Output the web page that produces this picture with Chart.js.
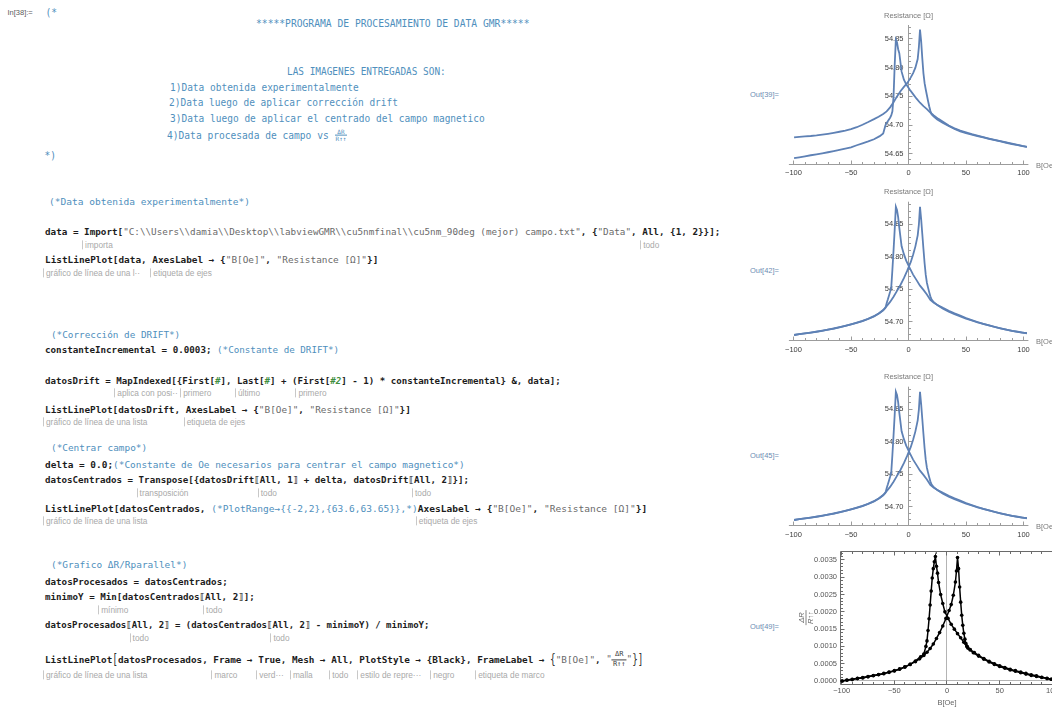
<!DOCTYPE html>
<html lang="es">
<head>
<meta charset="utf-8">
<title>Procesamiento de data GMR</title>
<script src="https://cdn.jsdelivr.net/npm/chart.js@4.4.1/dist/chart.umd.min.js"></script>
<script>
// Campo magnético aplicado (Oe): barrido de subida y barrido de bajada
const campoSubida = [-99.5,-95,-90,-85,-80,-75,-70,-65,-60,-55,-50,-45,-40,-35,-30,-26,-22,-19,-16,-13,-10,-7,-4,-1,2,4,6,8,9,10,11,12,13,14,15,16,17,18,19,20,22,25,30,35,40,45,50,55,60,65,70,75,80,85,90,95,99,103];
const campoBajada = [103,99,95,90,85,80,75,70,65,60,55,50,45,40,35,30,26,22,19,16,13,10,7,4,1,-2,-4,-6,-8,-9,-10,-11,-12,-13,-14,-15,-16,-17,-18,-19,-20,-22,-25,-30,-35,-40,-45,-50,-55,-60,-65,-70,-75,-80,-85,-90,-95,-99.5];

// Resistencia medida (Ω), sin corregir
const resistenciaSubida = [54.6790,54.6797,54.6805,54.6812,54.6822,54.6835,54.6850,54.6867,54.6886,54.6907,54.6932,54.6965,54.7008,54.7055,54.7105,54.7148,54.7195,54.7240,54.7310,54.7400,54.7500,54.7590,54.7665,54.7735,54.7830,54.7905,54.8000,54.8150,54.8350,54.8660,54.8460,54.8160,54.7900,54.7730,54.7620,54.7520,54.7420,54.7330,54.7250,54.7190,54.7150,54.7100,54.7040,54.6985,54.6935,54.6893,54.6860,54.6835,54.6810,54.6787,54.6763,54.6740,54.6717,54.6695,54.6673,54.6653,54.6638,54.6625];
const resistenciaBajada = [54.6625,54.6640,54.6657,54.6678,54.6700,54.6722,54.6745,54.6768,54.6792,54.6818,54.6845,54.6875,54.6905,54.6945,54.6993,54.7060,54.7110,54.7170,54.7220,54.7280,54.7330,54.7390,54.7460,54.7540,54.7620,54.7710,54.7790,54.7930,54.8250,54.8320,54.8440,54.8485,54.8050,54.7500,54.7240,54.7170,54.7130,54.7100,54.7070,54.7040,54.7000,54.6855,54.6810,54.6755,54.6718,54.6686,54.6652,54.6615,54.6592,54.6570,54.6550,54.6530,54.6512,54.6495,54.6478,54.6460,54.6443,54.6428];

// Resistencia tras la corrección de drift (Ω); el centrado usa delta = 0.0
const resistenciaCorregidaSubida = [54.6795,54.6807,54.6819,54.6832,54.6846,54.6861,54.6877,54.6895,54.6915,54.6937,54.6960,54.6985,54.7012,54.7045,54.7085,54.7125,54.7180,54.7240,54.7305,54.7385,54.7475,54.7565,54.7670,54.7790,54.7920,54.8030,54.8160,54.8330,54.8490,54.8770,54.8580,54.8350,54.8120,54.7900,54.7720,54.7600,54.7525,54.7455,54.7390,54.7345,54.7300,54.7255,54.7200,54.7155,54.7115,54.7080,54.7048,54.7018,54.6990,54.6965,54.6942,54.6920,54.6898,54.6878,54.6860,54.6845,54.6833,54.6822];
const resistenciaCorregidaBajada = [54.6822,54.6832,54.6843,54.6858,54.6876,54.6896,54.6918,54.6942,54.6967,54.6995,54.7025,54.7057,54.7092,54.7128,54.7168,54.7212,54.7250,54.7290,54.7335,54.7420,54.7490,54.7555,54.7640,54.7725,54.7830,54.7940,54.8040,54.8160,54.8450,54.8610,54.8720,54.8770,54.8420,54.8100,54.7800,54.7530,54.7460,54.7400,54.7340,54.7285,54.7215,54.7175,54.7135,54.7082,54.7043,54.7010,54.6982,54.6958,54.6935,54.6913,54.6893,54.6876,54.6860,54.6845,54.6832,54.6819,54.6807,54.6795];

// ΔR / R↑↑
const razonSubida = [0.00000,0.00003,0.00005,0.00008,0.00010,0.00013,0.00016,0.00019,0.00022,0.00026,0.00030,0.00035,0.00041,0.00048,0.00056,0.00064,0.00074,0.00083,0.00094,0.00107,0.00123,0.00140,0.00159,0.00181,0.00204,0.00221,0.00248,0.00286,0.00318,0.00357,0.00325,0.00272,0.00228,0.00190,0.00161,0.00138,0.00121,0.00108,0.00100,0.00095,0.00090,0.00082,0.00072,0.00063,0.00055,0.00048,0.00042,0.00037,0.00032,0.00028,0.00024,0.00020,0.00016,0.00013,0.00010,0.00007,0.00005,0.00003];
const razonBajada = [0.00003,0.00005,0.00008,0.00011,0.00015,0.00018,0.00022,0.00026,0.00030,0.00034,0.00039,0.00044,0.00050,0.00057,0.00065,0.00074,0.00082,0.00091,0.00100,0.00112,0.00125,0.00137,0.00150,0.00164,0.00181,0.00200,0.00224,0.00250,0.00285,0.00312,0.00332,0.00360,0.00345,0.00325,0.00298,0.00260,0.00220,0.00180,0.00146,0.00116,0.00100,0.00078,0.00070,0.00058,0.00048,0.00040,0.00034,0.00029,0.00025,0.00021,0.00018,0.00015,0.00012,0.00009,0.00007,0.00004,0.00002,0.00000];

// Marcas de los ejes
const ticksCampo = [-100, -50, 0, 50, 100];
const etiquetasCampo = ['\u2212100', '\u221250', '0', '50', '100'];
const ticksResistenciaBruta = [54.65, 54.70, 54.75, 54.80, 54.85];
const etiquetasResistenciaBruta = ['54.65', '54.70', '54.75', '54.80', '54.85'];
const ticksResistencia = [54.70, 54.75, 54.80, 54.85];
const etiquetasResistencia = ['54.70', '54.75', '54.80', '54.85'];
const ticksRazon = [0, 0.0005, 0.0010, 0.0015, 0.0020, 0.0025, 0.0030, 0.0035];
const etiquetasRazon = ['0.0000', '0.0005', '0.0010', '0.0015', '0.0020', '0.0025', '0.0030', '0.0035'];
const tituloCampo = 'B[Oe]';
const tituloResistencia = 'Resistance [\u03A9]';
const tituloRazonNum = '\u0394R';
const tituloRazonDen = 'R\u2191\u2191';
</script>
<style>
  html, body { margin: 0; padding: 0; background: #fff; }
  body { position: relative; width: 1052px; height: 708px; overflow: hidden; }
  .ln { position: absolute; white-space: pre; line-height: 1; transform-origin: 0 50%; transform: translateY(-50%);
        font-family: "DejaVu Sans Mono", "Liberation Mono", monospace; font-size: 9.3px; font-weight: bold; color: #1c1c1c; }
  .hd { font-weight: normal; font-size: 9.6px; color: #4f8fbd; }
  .m { font-weight: normal; color: #4f8fbd; }
  .s { font-weight: normal; color: #6a6a6a; }
  .p { color: #3e8e3e; font-style: italic; }
  .lab { position: absolute; white-space: pre; line-height: 1; transform: translateY(-50%);
         font-family: "Liberation Sans", Arial, sans-serif; font-size: 7.5px; }
  .in { color: #5a5a5a; }
  .out { color: #6c8db3; }
  .hint { position: absolute; white-space: pre; line-height: 1; transform: translateY(-50%);
          font-family: "Liberation Sans", Arial, sans-serif; font-size: 8.3px; color: #a9a9a9;
          border-left: 1px solid #c8c8c8; padding: 1px 0 0 2px; }
  .frac { display: inline-block; vertical-align: middle; text-align: center; font-size: 6px; line-height: 1.15; font-weight: normal; }
  .frac > span { display: block; padding: 0 1px; }
  .frac > span + span { border-top: 1px solid currentColor; }
  .frac2 { font-size: 7px; line-height: 1.3; color: #444; }
  .big { display: inline-block; transform: scaleY(1.6); font-weight: normal; color: #333; }
  canvas { position: absolute; }
</style>
</head>
<body>
<div class="lab in" style="left:7.5px;top:13px">In[38]:=</div>
<div class="ln hd" style="left:45.5px;top:13px">(*</div>
<div class="ln hd" style="left:256px;top:24px" data-w="273">*****PROGRAMA DE PROCESAMIENTO DE DATA GMR*****</div>
<div class="ln hd" style="left:287px;top:72px" data-w="159">LAS IMAGENES ENTREGADAS SON:</div>
<div class="ln hd" style="left:170px;top:88px" data-w="189">1)Data obtenida experimentalmente</div>
<div class="ln hd" style="left:168.5px;top:103px" data-w="229">2)Data luego de aplicar corrección drift</div>
<div class="ln hd" style="left:169.5px;top:118.5px" data-w="315">3)Data luego de aplicar el centrado del campo magnetico</div>
<div class="ln hd" style="left:167px;top:135.5px">4)Data procesada de campo vs <span class="frac"><span>ΔR</span><span>R↑↑</span></span></div>
<div class="ln hd" style="left:44.6px;top:156px">*)</div>

<div class="ln m" style="left:48.5px;top:202px" data-w="201">(*Data obtenida experimentalmente*)</div>
<div class="ln" style="left:45px;top:232px" data-w="675" data-hy="244.5">data = <span data-hint="importa">Import</span>[<span class="s">"C:\\Users\\damia\\Desktop\\labviewGMR\\cu5nmfinal\\cu5nm_90deg (mejor) campo.txt"</span>, {<span class="s">"Data"</span>, <span data-hint="todo">All</span>, {1, 2}}];</div>
<div class="ln" style="left:45px;top:260px" data-w="333" data-hy="272.5"><span data-hint="gráfico de línea de una l··">ListLinePlot</span>[data, <span data-hint="etiqueta de ejes">AxesLabel</span> → {<span class="s">"B[Oe]"</span>, <span class="s">"Resistance [Ω]"</span>}]</div>

<div class="ln m" style="left:51px;top:335px" data-w="129.5">(*Corrección de DRIFT*)</div>
<div class="ln" style="left:45px;top:350px" data-w="294.5">constanteIncremental = 0.0003; <span class="m">(*Constante de DRIFT*)</span></div>
<div class="ln" style="left:45px;top:381px" data-w="515.5" data-hy="393">datosDrift = <span data-hint="aplica con posi··">MapIndexed</span>[{<span data-hint="primero">First</span>[<span class="p">#</span>], <span data-hint="último">Last</span>[<span class="p">#</span>] + (<span data-hint="primero">First</span>[<span class="p">#2</span>] - 1) * constanteIncremental} &amp;, data];</div>
<div class="ln" style="left:45px;top:410px" data-w="366" data-hy="422"><span data-hint="gráfico de línea de una lista">ListLinePlot</span>[datosDrift, <span data-hint="etiqueta de ejes">AxesLabel</span> → {<span class="s">"B[Oe]"</span>, <span class="s">"Resistance [Ω]"</span>}]</div>

<div class="ln m" style="left:51px;top:448px" data-w="96">(*Centrar campo*)</div>
<div class="ln" style="left:45px;top:465px" data-w="419.5">delta = 0.0;<span class="m">(*Constante de Oe necesarios para centrar el campo magnetico*)</span></div>
<div class="ln" style="left:45px;top:480px" data-w="424" data-hy="492.5">datosCentrados = <span data-hint="transposición">Transpose</span>[{datosDrift⟦<span data-hint="todo">All</span>, 1⟧ + delta, datosDrift⟦<span data-hint="todo">All</span>, 2⟧}];</div>
<div class="ln" style="left:45px;top:508.5px" data-w="602.5" data-hy="520.5"><span data-hint="gráfico de línea de una lista">ListLinePlot</span>[datosCentrados, <span class="m">(*PlotRange→{{-2,2},{63.6,63.65}},*)</span><span data-hint="etiqueta de ejes">AxesLabel</span> → {<span class="s">"B[Oe]"</span>, <span class="s">"Resistance [Ω]"</span>}]</div>

<div class="ln m" style="left:51px;top:565px" data-w="136">(*Grafico ΔR/Rparallel*)</div>
<div class="ln" style="left:45px;top:581.5px" data-w="183">datosProcesados = datosCentrados;</div>
<div class="ln" style="left:45px;top:597px" data-w="210" data-hy="609.5">minimoY = <span data-hint="mínimo">Min</span>[datosCentrados⟦<span data-hint="todo">All</span>, 2⟧];</div>
<div class="ln" style="left:45px;top:625px" data-w="384" data-hy="637.5">datosProcesados⟦<span data-hint="todo">All</span>, 2⟧ = (datosCentrados⟦<span data-hint="todo">All</span>, 2⟧ - minimoY) / minimoY;</div>
<div class="ln" style="left:45px;top:660px" data-w="598.5" data-hy="675"><span data-hint="gráfico de línea de una lista">ListLinePlot</span><span class="big">[</span>datosProcesados, <span data-hint="marco">Frame</span> → <span data-hint="verd···">True</span>, <span data-hint="malla">Mesh</span> → <span data-hint="todo">All</span>, <span data-hint="estilo de repre···">PlotStyle</span> → {<span data-hint="negro">Black</span>}, <span data-hint="etiqueta de marco">FrameLabel</span> → <span class="big">{</span><span class="s">"B[Oe]"</span>, <span class="s">"<span class="frac frac2"><span>ΔR</span><span>R↑↑</span></span>"</span><span class="big">}</span><span class="big">]</span></div>

<div class="lab out" style="left:750px;top:94.5px">Out[39]=</div>
<div class="lab out" style="left:750px;top:271px">Out[42]=</div>
<div class="lab out" style="left:750px;top:455.5px">Out[45]=</div>
<div class="lab out" style="left:750px;top:627px">Out[49]=</div>

<canvas id="g1"></canvas>
<canvas id="g2"></canvas>
<canvas id="g3"></canvas>
<canvas id="g4"></canvas>

<script>
// Scale the notebook lines horizontally to their set widths, then attach usage hints.
document.querySelectorAll('.ln[data-w]').forEach(el => {
  const s = parseFloat(el.dataset.w) / el.offsetWidth;
  el.style.transform = 'translateY(-50%) scaleX(' + s.toFixed(4) + ')';
});
document.querySelectorAll('[data-hint]').forEach(sp => {
  const line = sp.closest('.ln');
  const r = sp.getBoundingClientRect();
  const h = document.createElement('div');
  h.className = 'hint';
  h.textContent = sp.dataset.hint;
  h.style.left = (r.left - 2).toFixed(1) + 'px';
  h.style.top = line.dataset.hy + 'px';
  document.body.appendChild(h);
});

// Axes drawn in the style of the notebook plots (axes through the origin, or a full frame).
const mmaAxes = {
  id: 'mmaAxes',
  beforeDatasetsDraw(chart, args, o) {
    const ctx = chart.ctx, a = chart.chartArea;
    const xs = chart.scales.x, ys = chart.scales.y;
    const X = v => xs.getPixelForValue(v), Y = v => ys.getPixelForValue(v);
    const h = p => Math.round(p - 0.5) + 0.5;
    const steps = (min, max, step) => {
      const out = [];
      for (let i = Math.ceil(min / step - 1e-9); i * step <= max + 1e-12; i++) out.push(i * step);
      return out;
    };
    ctx.save();
    ctx.lineWidth = 1;
    ctx.font = o.font;
    if (o.mode === 'axes') {
      const x0 = h(X(0)), yb = h(a.bottom);
      ctx.strokeStyle = o.axisColor;
      ctx.beginPath();
      ctx.moveTo(a.left, yb); ctx.lineTo(a.right, yb);
      ctx.moveTo(x0, a.top); ctx.lineTo(x0, a.bottom);
      steps(xs.min, xs.max, o.xMinor).forEach(v => { const p = h(X(v)); ctx.moveTo(p, yb); ctx.lineTo(p, yb - o.minorLen); });
      o.xTicks.forEach(v => { const p = h(X(v)); ctx.moveTo(p, yb); ctx.lineTo(p, yb - o.majorLen); });
      steps(ys.min, ys.max, o.yMinor).forEach(v => { const p = h(Y(v)); ctx.moveTo(x0, p); ctx.lineTo(x0 + o.minorLen, p); });
      o.yTicks.forEach(v => { const p = h(Y(v)); ctx.moveTo(x0, p); ctx.lineTo(x0 + o.majorLen, p); });
      ctx.stroke();
      ctx.fillStyle = o.labelColor;
      ctx.textBaseline = 'middle';
      ctx.textAlign = 'center';
      o.xTicks.forEach((v, i) => ctx.fillText(o.xLabels[i], X(v), a.bottom + o.xLabelGap));
      ctx.textAlign = 'right';
      o.yTicks.forEach((v, i) => ctx.fillText(o.yLabels[i], X(0) - o.yLabelGap, Y(v)));
      ctx.fillStyle = o.titleColor;
      ctx.textAlign = 'center';
      ctx.fillText(o.yTitle, X(0), a.top - 9.3);
      ctx.textAlign = 'left';
      ctx.fillText(o.xTitle, a.right + 7.6, a.bottom + 1.5);
    } else {
      const l = h(a.left), r = h(a.right), t = h(a.top), b = h(a.bottom);
      ctx.strokeStyle = o.zeroColor;
      ctx.beginPath();
      ctx.moveTo(h(X(0)), t); ctx.lineTo(h(X(0)), b);
      ctx.moveTo(l, h(Y(0))); ctx.lineTo(r, h(Y(0)));
      ctx.stroke();
      ctx.strokeStyle = o.frameColor;
      ctx.beginPath();
      ctx.rect(l, t, r - l, b - t);
      steps(xs.min, xs.max, o.xMinor).forEach(v => { const p = h(X(v));
        ctx.moveTo(p, b); ctx.lineTo(p, b - o.minorLen); ctx.moveTo(p, t); ctx.lineTo(p, t + o.minorLen); });
      o.xTicks.forEach(v => { const p = h(X(v));
        ctx.moveTo(p, b); ctx.lineTo(p, b - o.majorLen); ctx.moveTo(p, t); ctx.lineTo(p, t + o.majorLen); });
      steps(ys.min, ys.max, o.yMinor).forEach(v => { const p = h(Y(v));
        ctx.moveTo(l, p); ctx.lineTo(l + o.minorLen, p); ctx.moveTo(r, p); ctx.lineTo(r - o.minorLen, p); });
      o.yTicks.forEach(v => { const p = h(Y(v));
        ctx.moveTo(l, p); ctx.lineTo(l + o.majorLen, p); ctx.moveTo(r, p); ctx.lineTo(r - o.majorLen, p); });
      ctx.stroke();
      ctx.fillStyle = o.labelColor;
      ctx.textBaseline = 'middle';
      ctx.textAlign = 'center';
      o.xTicks.forEach((v, i) => ctx.fillText(o.xLabels[i], X(v), a.bottom + o.xLabelGap));
      ctx.textAlign = 'right';
      o.yTicks.forEach((v, i) => ctx.fillText(o.yLabels[i], a.left - o.yLabelGap, Y(v)));
      ctx.fillStyle = o.titleColor;
      ctx.textAlign = 'center';
      ctx.fillText(o.xTitle, X(0), a.bottom + o.xTitleGap);
      // vertical fraction label
      ctx.translate(a.left - o.yTitleGap, (a.top + a.bottom) / 2);
      ctx.rotate(-Math.PI / 2);
      ctx.font = o.fracFont;
      ctx.textBaseline = 'alphabetic';
      ctx.fillText(o.yTitleNum, 0, -1.6);
      ctx.textBaseline = 'top';
      ctx.fillText(o.yTitleDen, 0, 1.6);
      ctx.strokeStyle = o.titleColor;
      ctx.lineWidth = 0.8;
      ctx.beginPath();
      ctx.moveTo(-7.5, 0); ctx.lineTo(7.5, 0);
      ctx.stroke();
    }
    ctx.restore();
  }
};

const puntos = (xs, ys) => xs.map((x, i) => ({ x, y: ys[i] }));
const azul = '#5e81b5';
const fuente = '7.5px "Liberation Sans", Arial, sans-serif';

// Canvas box [left, top, width, height] and plot area [left, top, right, bottom] in page pixels.
function grafico(id, box, area, xr, yr, datasets, ejes) {
  const cv = document.getElementById(id);
  cv.width = box[2]; cv.height = box[3];
  cv.style.left = box[0] + 'px'; cv.style.top = box[1] + 'px';
  cv.style.width = box[2] + 'px'; cv.style.height = box[3] + 'px';
  return new Chart(cv, {
    type: 'line',
    data: { datasets },
    options: {
      responsive: false, animation: false, devicePixelRatio: 1, events: [],
      layout: { padding: { left: area[0] - box[0], top: area[1] - box[1],
                           right: box[0] + box[2] - area[2], bottom: box[1] + box[3] - area[3] } },
      scales: {
        x: { type: 'linear', min: xr[0], max: xr[1], display: false },
        y: { type: 'linear', min: yr[0], max: yr[1], display: false }
      },
      plugins: { legend: { display: false }, tooltip: { enabled: false }, mmaAxes: ejes }
    },
    plugins: [mmaAxes]
  });
}

const lineaAzul = d => ({ data: d, borderColor: azul, borderWidth: 1.8, pointRadius: 0, tension: 0, fill: false });
const lineaNegra = d => ({ data: d, borderColor: '#000', borderWidth: 1.5, pointRadius: 1.8, pointBorderWidth: 0,
                           pointBackgroundColor: '#000', tension: 0, fill: false });

const ejesResistencia = (yt, yl) => ({
  mode: 'axes', font: fuente, axisColor: '#9c9c9c', labelColor: '#3c3c3c', titleColor: '#7a7a7a',
  xTicks: ticksCampo, xLabels: etiquetasCampo, xMinor: 10, yTicks: yt, yLabels: yl, yMinor: 0.01,
  majorLen: 4, minorLen: 2.5, xLabelGap: 9.3, yLabelGap: 5, xTitle: tituloCampo, yTitle: tituloResistencia
});

const rangoCampo = [-104.0, 104.26];

grafico('g1', [760, 0, 300, 185], [788.9, 25, 1028.4, 164], rangoCampo, [54.6326, 54.874],
  [lineaAzul(puntos(campoSubida, resistenciaSubida)), lineaAzul(puntos(campoBajada, resistenciaBajada))],
  ejesResistencia(ticksResistenciaBruta, etiquetasResistenciaBruta));

grafico('g2', [760, 185, 300, 180], [788.9, 201.7, 1028.4, 340.7], rangoCampo, [54.6707, 54.8848],
  [lineaAzul(puntos(campoSubida, resistenciaCorregidaSubida)), lineaAzul(puntos(campoBajada, resistenciaCorregidaBajada))],
  ejesResistencia(ticksResistencia, etiquetasResistencia));

grafico('g3', [760, 365, 300, 180], [788.9, 386.7, 1028.4, 525.7], rangoCampo, [54.6707, 54.8848],
  [lineaAzul(puntos(campoSubida, resistenciaCorregidaSubida)), lineaAzul(puntos(campoBajada, resistenciaCorregidaBajada))],
  ejesResistencia(ticksResistencia, etiquetasResistencia));

grafico('g4', [780, 545, 290, 163], [840, 551, 1056.5, 684.3], [-101.6, 104.0], [-0.0000955, 0.00376],
  [lineaNegra(puntos(campoSubida, razonSubida)), lineaNegra(puntos(campoBajada, razonBajada))],
  { mode: 'frame', font: fuente, frameColor: '#6a6a6a', zeroColor: '#b4b4b4', labelColor: '#555',
    titleColor: '#666', xTicks: ticksCampo, xLabels: etiquetasCampo, xMinor: 10,
    yTicks: ticksRazon, yLabels: etiquetasRazon, yMinor: 0.0001, majorLen: 4, minorLen: 2.5,
    xLabelGap: 6.5, yLabelGap: 3, xTitle: tituloCampo, xTitleGap: 19, yTitleGap: 34,
    yTitleNum: tituloRazonNum, yTitleDen: tituloRazonDen, fracFont: 'italic 7.5px "Liberation Sans", Arial, sans-serif' });
</script>
</body>
</html>
